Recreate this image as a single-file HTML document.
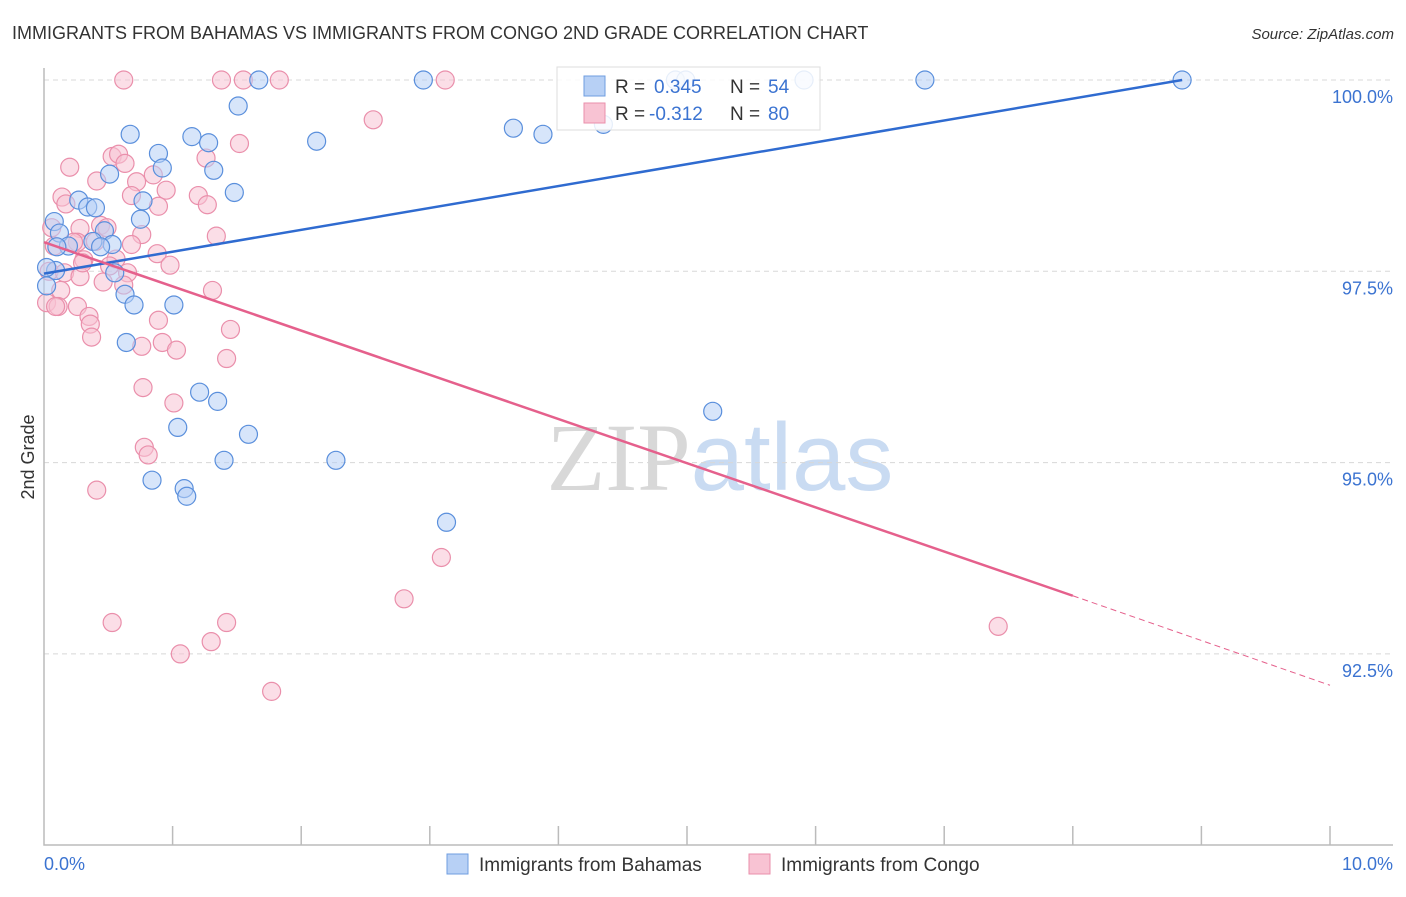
<!DOCTYPE html>
<html><head><meta charset="utf-8"><style>
body{margin:0;background:#fff;font-family:"Liberation Sans",sans-serif;}
svg text{font-family:"Liberation Sans",sans-serif;}
</style></head><body>
<svg id="chart" width="1406" height="892" xmlns="http://www.w3.org/2000/svg">
<text x="12" y="39" font-size="18" fill="#333">IMMIGRANTS FROM BAHAMAS VS IMMIGRANTS FROM CONGO 2ND GRADE CORRELATION CHART</text>
<text x="1394" y="39" font-size="15" fill="#333" font-style="italic" text-anchor="end">Source: ZipAtlas.com</text>
<text x="720" y="490" font-size="96" text-anchor="middle"><tspan fill="#d8d8d8" font-family="Liberation Serif">ZIP</tspan><tspan fill="#c9dbf2">atlas</tspan></text>
<g id="grid"></g>
<g id="axes"></g>
<g id="pts"></g>
<g id="trend"></g>
<text transform="translate(34,457) rotate(-90)" font-size="18" fill="#333" text-anchor="middle">2nd Grade</text>
<g>
<rect x="557" y="67" width="263" height="63" fill="#fff" fill-opacity="0.85" stroke="#ddd"/>
<rect x="584" y="76" width="21" height="20" fill="#b7d0f5" stroke="#6f9ee0"/>
<rect x="584" y="103" width="21" height="20" fill="#f8c3d3" stroke="#ea8fab"/>
<text x="615" y="93" font-size="19" fill="#333">R = </text><text x="654" y="93" font-size="19" fill="#3b73d1">0.345</text>
<text x="730" y="93" font-size="19" fill="#333">N = </text><text x="768" y="93" font-size="19" fill="#3b73d1">54</text>
<text x="615" y="120" font-size="19" fill="#333">R = </text><text x="649" y="120" font-size="19" fill="#3b73d1">-0.312</text>
<text x="730" y="120" font-size="19" fill="#333">N = </text><text x="768" y="120" font-size="19" fill="#3b73d1">80</text>
</g>
<g>
<rect x="447" y="854" width="21" height="20" fill="#b7d0f5" stroke="#6f9ee0"/>
<text x="479" y="871" font-size="19" fill="#333">Immigrants from Bahamas</text>
<rect x="749" y="854" width="21" height="20" fill="#f8c3d3" stroke="#ea8fab"/>
<text x="781" y="871" font-size="19" fill="#333">Immigrants from Congo</text>
</g>
</svg>
<script>
const xTicks=[0,1,2,3,4,5,6,7,8,9,10];
const yTicks=[100,97.5,95,92.5];
const yTickLabels=["100.0%","97.5%","95.0%","92.5%"];
const xEndLabels=["0.0%","10.0%"];
const bahamasX=[8.85,6.85,5.91,2.95,1.67,1.51,0.67,1.15,1.28,2.12,3.65,3.88,4.35,0.89,0.92,1.32,0.51,1.48,0.27,0.34,0.40,0.77,0.75,0.08,0.12,0.47,0.38,0.53,0.44,0.19,0.10,0.55,0.09,0.02,0.63,0.70,1.01,0.64,1.21,1.35,1.04,1.59,1.40,2.27,5.20,0.84,1.09,1.11,3.13,0.02,4.91,4.99];
const bahamasY=[100,100,100,100,100,99.66,99.29,99.26,99.18,99.20,99.37,99.29,99.42,99.04,98.85,98.82,98.77,98.53,98.43,98.34,98.33,98.42,98.18,98.15,98.00,98.03,97.89,97.85,97.82,97.83,97.82,97.48,97.51,97.31,97.20,97.06,97.06,96.57,95.92,95.80,95.46,95.37,95.03,95.03,95.67,94.77,94.66,94.56,94.22,97.55,100,100];
const congoX=[0.62,1.38,1.55,1.83,3.12,2.56,1.52,1.26,0.20,0.53,0.58,0.63,0.41,0.72,0.85,0.95,0.14,0.17,0.68,0.89,1.20,1.27,0.06,0.28,0.44,0.49,0.76,0.40,0.26,1.34,0.68,0.08,0.23,0.56,0.51,0.88,0.98,0.04,0.16,0.28,0.31,0.46,0.65,0.30,0.13,0.02,0.11,0.26,0.62,1.31,0.35,0.36,0.37,0.89,0.92,0.76,1.03,1.45,1.42,0.77,1.01,0.78,0.81,0.41,0.53,1.06,1.30,1.42,1.77,2.80,3.09,7.42,0.09];
const congoY=[100,100,100,100,100,99.48,99.17,98.98,98.86,99.00,99.03,98.91,98.68,98.67,98.76,98.56,98.47,98.38,98.49,98.35,98.49,98.37,98.07,98.06,98.10,98.07,97.98,97.89,97.88,97.96,97.85,97.83,97.88,97.66,97.57,97.73,97.58,97.50,97.48,97.43,97.65,97.36,97.48,97.61,97.25,97.09,97.04,97.04,97.32,97.25,96.91,96.81,96.64,96.86,96.57,96.52,96.47,96.74,96.36,95.98,95.78,95.20,95.10,94.64,92.91,92.50,92.66,92.91,92.01,93.22,93.76,92.86,97.04];
const bahamasTrend=[0,97.47,8.85,100];
const congoTrend=[0,97.88,8.0,93.26,10,92.09];
const X0=44,X1=1330,Y100=80,PER=191.3/2.5;
const xs=v=>X0+v*(X1-X0)/10, ys=v=>Y100+(100-v)*PER;
const NS="http://www.w3.org/2000/svg";
function mk(t,a,p){const e=document.createElementNS(NS,t);for(const k in a)e.setAttribute(k,a[k]);p.appendChild(e);return e;}
const grid=document.getElementById('grid'),axes=document.getElementById('axes'),pts=document.getElementById('pts'),trend=document.getElementById('trend');
yTicks.forEach((v,i)=>{
 const l=mk('line',{x1:X0,x2:1393,y1:ys(v),y2:ys(v),stroke:'#d8d8d8','stroke-dasharray':'5,4'},grid);
 
 
 const t=mk('text',{x:1393,y:ys(v)+23,'font-size':18,fill:'#3b73d1','text-anchor':'end'},axes);
 t.textContent=yTickLabels[i];
 
 
});
const ax=mk('path',{d:`M${X0} 68 V845 H1393`,stroke:'#bbb',fill:'none','stroke-width':1.5},axes);


xTicks.forEach(v=>{if(v===0)return;
 const t=mk('line',{x1:xs(v),x2:xs(v),y1:826,y2:845,stroke:'#bbb','stroke-width':1.5},axes);
 
 
});
[[0,'start',44],[10,'end',1393]].forEach((d,i)=>{
 const t=mk('text',{x:d[2],y:870,'font-size':18,fill:'#3b73d1','text-anchor':d[1]},axes);
 t.textContent=xEndLabels[i];
 
 
});
function dots(X,Y,fill,stroke,name){X.forEach((x,i)=>{
 const c=mk('circle',{cx:xs(x),cy:ys(Y[i]),r:9,fill:fill,'fill-opacity':0.55,stroke:stroke,'stroke-width':1.2},pts);
 
 
});}
dots(congoX,congoY,'#f8c3d3','#ea8fab','point-congo');
dots(bahamasX,bahamasY,'#b7d0f5','#5a8fdc','point-bahamas');
const b=mk('line',{x1:xs(bahamasTrend[0]),y1:ys(bahamasTrend[1]),x2:xs(bahamasTrend[2]),y2:ys(bahamasTrend[3]),stroke:'#2f6bd0','stroke-width':2.5},trend);


const c1=mk('line',{x1:xs(congoTrend[0]),y1:ys(congoTrend[1]),x2:xs(congoTrend[2]),y2:ys(congoTrend[3]),stroke:'#e5608c','stroke-width':2.5},trend);


const c2=mk('line',{x1:xs(congoTrend[2]),y1:ys(congoTrend[3]),x2:xs(congoTrend[4]),y2:ys(congoTrend[5]),stroke:'#e5608c','stroke-width':1,'stroke-dasharray':'6,4'},trend);


</script>
</body></html>
